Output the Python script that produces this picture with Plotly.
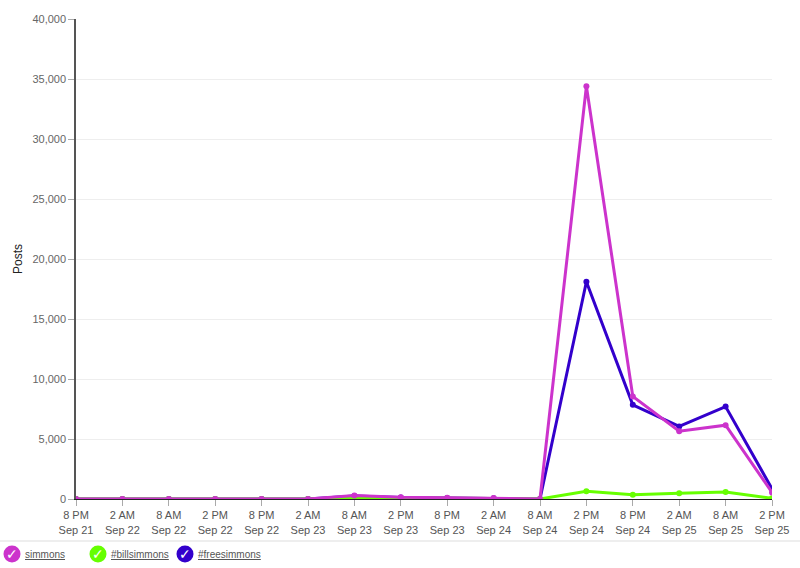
import plotly.graph_objects as go

categories = ["8 PM<br>Sep 21", "2 AM<br>Sep 22", "8 AM<br>Sep 22", "2 PM<br>Sep 22",
              "8 PM<br>Sep 22", "2 AM<br>Sep 23", "8 AM<br>Sep 23", "2 PM<br>Sep 23",
              "8 PM<br>Sep 23", "2 AM<br>Sep 24", "8 AM<br>Sep 24", "2 PM<br>Sep 24",
              "8 PM<br>Sep 24", "2 AM<br>Sep 25", "8 AM<br>Sep 25", "2 PM<br>Sep 25"]

simmons = [0, 0, 0, 0, 0, 0, 300, 150, 100, 80, 0, 34400, 8550, 5650, 6150, 550]
billsimmons = [0, 0, 0, 0, 0, 0, 150, 80, 60, 40, 0, 650, 350, 480, 580, 60]
freesimmons = [0, 0, 0, 0, 0, 0, 250, 120, 80, 60, 0, 18100, 7850, 6050, 7700, 850]

series_names = ["simmons", "#billsimmons", "#freesimmons"]
colors = ["#CC33CC", "#66FF00", "#3300CC"]

y_ticks = [0, 5000, 10000, 15000, 20000, 25000, 30000, 35000, 40000]

fig = go.Figure()
data = [simmons, billsimmons, freesimmons]
for idx in [2, 1, 0]:
    fig.add_trace(go.Scatter(
        x=categories, y=data[idx], name=series_names[idx], mode="lines+markers",
        line=dict(color=colors[idx], width=3),
        marker=dict(color=colors[idx], size=6),
        showlegend=False,
    ))

W, H = 800, 568
L, R, T, B = 76, 28, 19, 69
pw, ph = W - L - R, H - T - B

def px(x):
    return (x - L) / pw

def py(y):
    return (H - B - y) / ph

shapes = [dict(type="line", xref="paper", yref="paper", x0=px(0), x1=px(800),
               y0=py(541), y1=py(541), line=dict(color="#dddddd", width=1))]
annotations = []
legend_items = [(12, 23), (98, 109), (185, 196)]
for (cx, tx), name, col in zip(legend_items, series_names, colors):
    r = 8.5
    shapes.append(dict(type="circle", xref="paper", yref="paper",
                       x0=px(cx - r), x1=px(cx + r), y0=py(554 + r), y1=py(554 - r),
                       fillcolor=col, line=dict(color=col, width=0)))
    annotations.append(dict(xref="paper", yref="paper", x=px(cx), y=py(554),
                            text="<b>✓</b>", showarrow=False, xanchor="center", yanchor="middle",
                            font=dict(color="white", size=14, family="DejaVu Sans")))
    annotations.append(dict(xref="paper", yref="paper", x=px(tx), y=py(554),
                            text="<u>" + name + "</u>", showarrow=False, xanchor="left", yanchor="middle",
                            font=dict(color="#555555", size=10, family="Liberation Sans")))

fig.update_layout(
    width=W, height=H,
    margin=dict(l=L, r=R, t=T, b=B, autoexpand=False),
    plot_bgcolor="white", paper_bgcolor="white",
    font=dict(family="Liberation Sans", size=11, color="#555555"),
    hovermode=False,
    xaxis=dict(type="category", range=[0, len(categories) - 1], showgrid=False,
               automargin=False,
               showline=True, linecolor="#222222", linewidth=1,
               ticks="outside", ticklen=6, tickcolor="#aaaaaa",
               tickfont=dict(size=11, color="#555555"), zeroline=False),
    yaxis=dict(range=[0, 40000], tickvals=y_ticks, tickformat=",",
               automargin=False,
               showgrid=True, gridcolor="#eeeeee", gridwidth=1,
               showline=True, linecolor="#555555", linewidth=1.5,
               ticks="outside", ticklen=6, tickcolor="#aaaaaa",
               tickfont=dict(size=11, color="#666666"), zeroline=False,
               title=dict(text="Posts", font=dict(size=12, color="#222222"), standoff=7)),
    shapes=shapes, annotations=annotations,
)

fig.write_html("out.html", config={"displayModeBar": False},
               post_script="document.body.style.margin='0';document.body.style.overflow='hidden';")
